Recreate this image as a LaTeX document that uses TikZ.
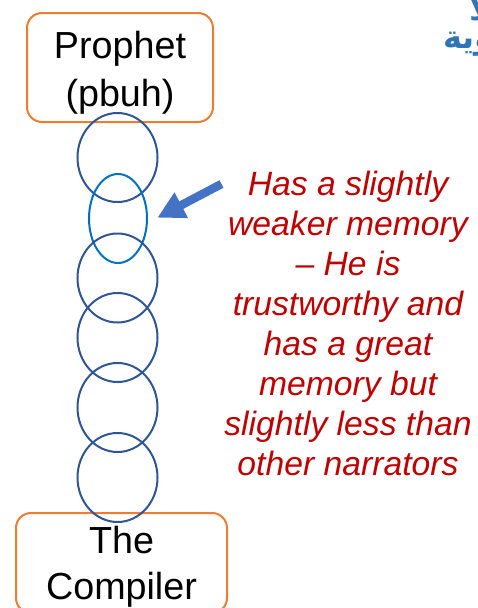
\documentclass[tikz,border=0pt]{standalone}
\usepackage{fontspec}
\setmainfont{Liberation Sans}
\newfontfamily\arabicfont[Script=Arabic]{DejaVu Sans}
\TeXXeTstate=1
\usetikzlibrary{shapes.geometric,arrows.meta}
\definecolor{boxorange}{HTML}{ED7D31}
\definecolor{ringblue}{HTML}{2F5597}
\definecolor{weakblue}{HTML}{0070C0}
\definecolor{arrowblue}{HTML}{4472C4}
\definecolor{notered}{HTML}{C00000}
\definecolor{titleblue}{HTML}{2E75B6}

\begin{document}
\begin{tikzpicture}[x=1pt, y=-1pt,
    endbox/.style={draw=boxorange, line width=2pt, rounded corners=15pt, align=center,
      font=\fontsize{37.7}{48}\selectfont, inner sep=0pt},
    ring/.style={ellipse, draw=ringblue, line width=2pt, minimum width=80pt, minimum height=89pt, inner sep=0pt},
    weakring/.style={ellipse, draw=weakblue, line width=2pt, minimum width=58pt, minimum height=89pt, inner sep=0pt},
    note/.style={text=notered, align=center, inner sep=0pt, font=\itshape\fontsize{33.7}{40}\selectfont},
    pointer/.style={draw=arrowblue, fill=arrowblue, line width=8.5pt, -{Triangle[length=27pt,width=27pt]}, shorten >=10.7pt},
    frag/.style={text=titleblue, inner sep=0pt, font=\arabicfont\fontsize{32}{38}\selectfont\bfseries}]
  \useasboundingbox (0,0) rectangle (478,608);
  \clip (0,0) rectangle (478,608);

  % cut-off title at the top right
  \node[frag, anchor=base west] (title1) at (469,20) {\beginR لا\endR};
  \node[frag, anchor=base west] (title2) at (443,48) {\beginR نبوية\endR};

  \node[endbox, minimum width=186pt, minimum height=109pt] (prophet) at (120,67.5) {\rule{0pt}{37.5pt}Prophet\\(pbuh)};
  \node[endbox, minimum width=211pt, minimum height=100pt] (compiler) at (121.5,563) {\rule{0pt}{35.5pt}The\\[-2pt]Compiler};

  % chain of narrators
  \node[ring] (r1) at (117.5,157.5) {};
  \node[weakring] (weak) at (118,218.5) {};
  \node[ring] (r3) at (117.5,278) {};
  \node[ring] (r4) at (117.5,337.5) {};
  \node[ring] (r5) at (117.5,407.5) {};
  \node[ring] (r6) at (117.5,477.5) {};

  \node[note] (comment) at (348,323) {Has a slightly\\weaker memory\\– He is\\trustworthy and\\has a great\\memory but\\slightly less than\\other narrators};

  \coordinate (tail) at (221.5,184);
  \draw[pointer] (tail) -- (weak.-8);
\end{tikzpicture}
\end{document}
